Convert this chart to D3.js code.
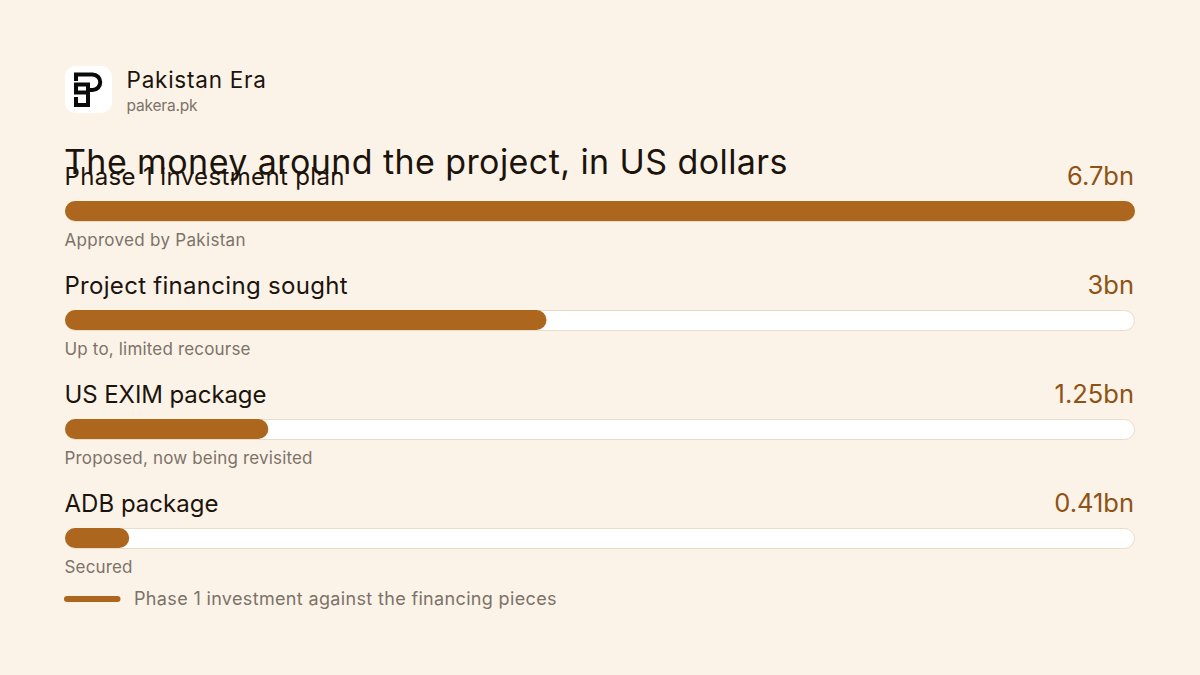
<!DOCTYPE html>
<html><head><meta charset="utf-8">
<script src="https://cdn.jsdelivr.net/npm/d3@7/dist/d3.min.js"></script>
<style>
html,body{margin:0;padding:0;background:#fbf3e8;}
svg{display:block;font-family:Inter,"Noto Sans",sans-serif;}
</style></head><body><div id="chart"></div>
<script>
const categories=["Phase 1 investment plan","Project financing sought","US EXIM package","ADB package"];
const values=[6.7,3,1.25,0.41];
const valueLabels=["6.7bn","3bn","1.25bn","0.41bn"];
const notes=["Approved by Pakistan","Up to, limited recourse","Proposed, now being revisited","Secured"];
const title="The money around the project, in US dollars";
const brand="Pakistan Era", site="pakera.pk";
const legendLabel="Phase 1 investment against the financing pieces";

// fitted text widths (the reference face is not installed)
const labelFit=[280,283,202,154];
const noteFit=[181,186,248,68];

const svg=d3.select("#chart").append("svg").attr("width",1200).attr("height",675);
svg.append("rect").attr("width",1200).attr("height",675).attr("fill","#fbf3e8");

const x=d3.scaleLinear().domain([0,100]).range([65,1135]);
const y=d3.scaleBand().domain(categories).range([201,637]).paddingInner(0);
const share=v=>Math.round(v/d3.max(values)*100);

// logo
const logo=svg.append("g").attr("transform","translate(65,66)");
logo.append("rect").attr("width",47).attr("height",47).attr("rx",11).attr("fill","#fff");
logo.append("path").attr("fill","none").attr("stroke","#0a0a0a").attr("stroke-width",4)
 .attr("d","M11 15V8.5H27.5a7.75 7.75 0 0 1 0 15.5H23M9 18.5H25M11 18.5V26.5H23M23 18.5V39H11V31");

svg.append("text").attr("x",126.5).attr("y",88).attr("font-size",22.5).attr("fill","#1c140c").attr("textLength",139.5).text(brand);
svg.append("text").attr("x",126.5).attr("y",111).attr("font-size",15.5).attr("fill","#7b7268").attr("textLength",71).text(site);
svg.append("text").attr("x",64).attr("y",174).attr("font-size",34).attr("fill","#1c140c").attr("textLength",723.5).text(title);

const rows=svg.selectAll("g.row").data(categories).join("g").attr("class","row");
rows.append("text").attr("x",64.5).attr("y",c=>y(c)-16).attr("font-size",24).attr("fill","#1c140c").attr("textLength",(c,i)=>labelFit[i]).text(c=>c);
rows.append("text").attr("x",1134).attr("y",c=>y(c)-16).attr("text-anchor","end").attr("font-size",25.5).attr("fill","#8f5215")
 .text((c,i)=>valueLabels[i]);
rows.append("rect").attr("x",x(0)+.5).attr("y",c=>y(c)+.5).attr("width",x(100)-x(0)-1).attr("height",20).attr("rx",10)
 .attr("fill","#fff").attr("stroke","#e9dcc8");
rows.append("rect").attr("x",x(0)).attr("y",c=>y(c)).attr("width",(c,i)=>x(share(values[i]))-x(0)).attr("height",20).attr("rx",10).attr("fill","#ad661d");
rows.append("text").attr("x",64.5).attr("y",c=>y(c)+45).attr("font-size",17).attr("fill","#7b7268").attr("textLength",(c,i)=>noteFit[i]).text((c,i)=>notes[i]);

svg.append("line").attr("x1",67).attr("x2",117.5).attr("y1",599).attr("y2",599).attr("stroke","#ad661d").attr("stroke-width",6).attr("stroke-linecap","round");
svg.append("text").attr("x",134).attr("y",605).attr("font-size",18).attr("fill","#7b7268").attr("textLength",422.5).text(legendLabel);
</script></body></html>
